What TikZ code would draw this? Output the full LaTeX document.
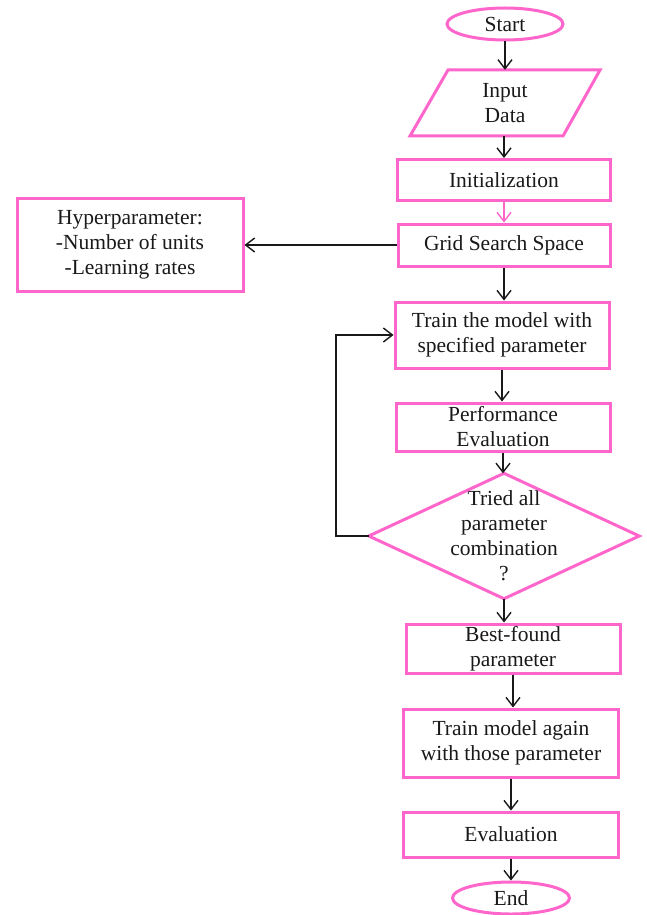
\documentclass[tikz,border=0pt]{standalone}
\usepackage{fontspec}
\setmainfont{Liberation Serif}
\usetikzlibrary{arrows.meta,shapes.geometric}
\definecolor{boxpink}{RGB}{255,102,204}
\definecolor{ink}{RGB}{25,25,25}
\begin{document}
\begin{tikzpicture}[x=1pt,y=-1pt,
  every node/.style={font=\fontsize{21.5}{25}\selectfont, text=ink, align=center, inner sep=0pt},
  procbox/.style={draw=boxpink, line width=3pt, rectangle},
  termbox/.style={draw=boxpink, line width=3pt, ellipse},
  arr/.style={draw=ink, line width=1.4pt, -{Straight Barb[length=9pt,width=14pt]}},
  pinkarr/.style={draw=boxpink, line width=1.4pt, -{Straight Barb[length=9pt,width=14pt]}}]
\useasboundingbox (0,0) rectangle (646,915);
\fill[white] (0,0) rectangle (646,915);

% terminals and process steps
\node[termbox, minimum width=116, minimum height=32] (start) at (505,24) {Start};
\node[minimum width=190, minimum height=66] (input) at (505,103) {Input\\Data};
\draw[boxpink, line width=3pt, line join=miter]
  (448,70) -- (600,70) -- (563,136) -- (410,136) -- cycle;
\node[procbox, minimum width=213, minimum height=41] (init) at (504,180) {Initialization};
\node[procbox, minimum width=212, minimum height=42] (grid) at (504,245) {Grid Search Space};
\node[procbox, minimum width=226, minimum height=93] (hyp) at (130,245)
  {Hyperparameter:\\-Number of units\\-Learning rates};
\node[procbox, minimum width=214, minimum height=66] (train) at (502,335)
  {Train the model with\\specified parameter};
\node[procbox, minimum width=214, minimum height=48] (perf) at (503,427)
  {Performance\\Evaluation};

% decision
\node[minimum width=270, minimum height=125] (dec) at (504,536)
  {Tried all\\parameter\\combination\\?};
\draw[boxpink, line width=3pt, line join=miter]
  (dec.north) -- (dec.east) -- (dec.south) -- (dec.west) -- cycle;

\node[procbox, minimum width=214, minimum height=49] (best) at (513,648.5)
  {Best-found\\parameter};
\node[procbox, minimum width=215, minimum height=68] (again) at (511,743)
  {Train model again\\with those parameter};
\node[procbox, minimum width=215, minimum height=45] (eval) at (511,834.5) {Evaluation};
\node[termbox, minimum width=117, minimum height=32] (end) at (511,898) {End};

% connectors
\draw[arr] (start.south) -- (start.south |- input.north);
\draw[arr] (input.south -| init.north) -- (init.north);
\draw[pinkarr] (init.south) -- (init.south |- grid.north);
\draw[arr] (grid.west) -- (hyp.east);
\draw[arr] (grid.south) -- (grid.south |- train.north);
\draw[arr] (train.south) -- (train.south |- perf.north);
\draw[arr] (perf.south) -- (perf.south |- dec.north);
\draw[arr] (dec.west) -- ++(-33,0) |- (train.west);
\draw[arr] (dec.south) -- (dec.south |- best.north);
\draw[arr] (best.south) -- (best.south |- again.north);
\draw[arr] (again.south) -- (again.south |- eval.north);
\draw[arr] (eval.south) -- (eval.south |- end.north);
\end{tikzpicture}
\end{document}
